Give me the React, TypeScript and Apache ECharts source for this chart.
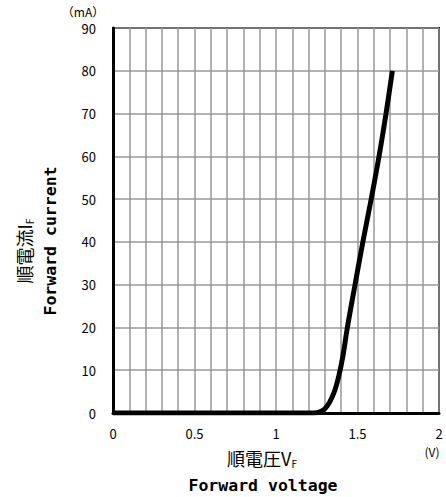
import React, { useEffect, useRef } from "react";
import * as echarts from "echarts";

const voltage = [0, 1.2, 1.25, 1.27, 1.3, 1.33, 1.36, 1.385, 1.41, 1.438, 1.485, 1.533, 1.584, 1.632, 1.675, 1.714];
const current = [0, 0, 0.05, 0.3, 1.0, 2.6, 5.2, 8.6, 13.2, 20, 30, 40, 50, 60, 70, 80];
const xTickLabels = ["0", "0.5", "1", "1.5", "2"];
const yTickLabels = ["0", "10", "20", "30", "40", "50", "60", "70", "80", "90"];

const FONT = "'Noto Sans CJK JP', 'Noto Sans', sans-serif";
const MONO = "'DejaVu Sans Mono', 'Noto Sans CJK JP', monospace";

export default function App() {
  const ref = useRef<HTMLDivElement>(null);
  useEffect(() => {
    if (!ref.current) return;
    const chart = echarts.init(ref.current, null, { renderer: "svg" });
    const data = voltage.map((v, i) => [v, current[i]]);
    const rich = {
      a: { fontSize: 18, fontFamily: FONT, fill: "#000" },
      s: { fontSize: 10, fontFamily: FONT, fill: "#000", verticalAlign: "bottom", padding: [10, 0, 0, 0] },
    };
    chart.setOption({
      animation: false,
      backgroundColor: "#fff",
      grid: {
        left: 113,
        right: 7,
        top: 28,
        bottom: 84,
        show: true,
        borderColor: "#000",
        borderWidth: 2,
      },
      xAxis: {
        type: "value",
        min: 0,
        max: 2,
        interval: 0.1,
        axisLine: { show: true, onZero: false, lineStyle: { color: "#000", width: 3 } },
        axisTick: { show: false },
        splitLine: { show: true, lineStyle: { color: "#999", width: 1.5 } },
        axisLabel: {
          color: "#000",
          fontSize: 13,
          fontFamily: FONT,
          margin: 14,
          formatter: (v: number) => {
            const k = Math.round(v * 10);
            return k % 5 === 0 ? xTickLabels[k / 5] : "";
          },
        },
      },
      yAxis: {
        type: "value",
        min: 0,
        max: 90,
        interval: 10,
        axisLine: { show: true, lineStyle: { color: "#000", width: 3 } },
        axisTick: { show: false },
        splitLine: { show: true, lineStyle: { color: "#999", width: 1.5 } },
        axisLabel: {
          color: "#000",
          fontSize: 13,
          fontFamily: FONT,
          margin: 17,
          formatter: (v: number) => yTickLabels[Math.round(v / 10)],
        },
      },
      graphic: [
        {
          type: "text",
          x: 83,
          y: 11,
          style: { text: "（mA）", fill: "#000", font: `12px ${FONT}`, align: "center", verticalAlign: "middle" },
        },
        {
          type: "text",
          x: 432,
          y: 451,
          style: { text: "(V)", fill: "#000", font: `12px ${FONT}`, align: "center", verticalAlign: "middle" },
        },
        {
          type: "text",
          x: 262,
          y: 458,
          style: {
            text: "{a|順電圧V}{s|F}",
            fill: "#000",
            align: "center",
            verticalAlign: "middle",
            rich,
          },
        },
        {
          type: "text",
          x: 263,
          y: 485,
          style: {
            text: "Forward voltage",
            fill: "#000",
            align: "center",
            verticalAlign: "middle",
            font: `bold 16.5px ${MONO}`,
          },
        },
        {
          type: "text",
          x: 24,
          y: 251,
          rotation: Math.PI / 2,
          style: {
            text: "{a|順電流I}{s|F}",
            fill: "#000",
            align: "center",
            verticalAlign: "middle",
            rich,
          },
        },
        {
          type: "text",
          x: 50,
          y: 241,
          rotation: Math.PI / 2,
          style: {
            text: "Forward current",
            fill: "#000",
            align: "center",
            verticalAlign: "middle",
            font: `bold 16.5px ${MONO}`,
          },
        },
      ],
      series: [
        {
          type: "line",
          data,
          smooth: 0.4,
          showSymbol: false,
          symbol: "none",
          lineStyle: { color: "#000", width: 5 },
          z: 5,
        },
      ],
    });
    return () => chart.dispose();
  }, []);
  return <div ref={ref} style={{ width: 446, height: 497, position: "absolute", left: 0, top: 0 }} />;
}
